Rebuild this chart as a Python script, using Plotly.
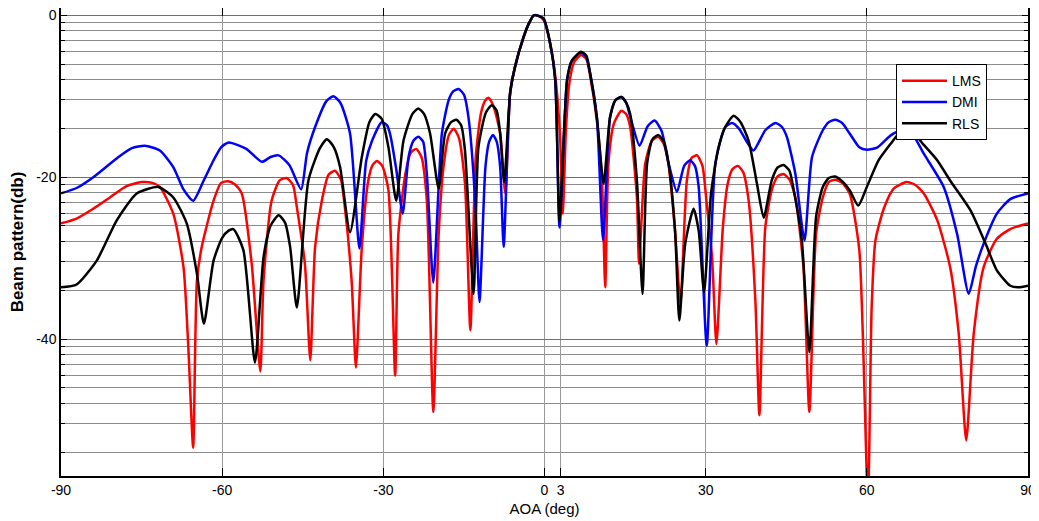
import math
import plotly.graph_objects as go

# ---------------- data ----------------
lms_aoa = [-90, -87.1, -84.0, -80.9, -77.8, -75.0, -73.0, -71.6, -69.1, -67.2, -66.3, -65.4, -64.7, -63.8, -61.6,
           -60.2, -58.9, -57.6, -56.35, -54.5, -52.9, -52.3, -50.8, -49.3, -48.0, -46.8, -46.1, -44.6, -43.6,
           -42.7, -41.45, -40.2, -39.0, -37.9, -37.1, -35.9, -35.1, -34.0, -32.8, -32.0, -31.2, -30.2, -29.05,
           -27.8, -27.2, -25.9, -24.9, -23.9, -22.9, -21.9, -20.7, -19.7, -18.8, -17.8, -16.9, -15.9, -14.8,
           -13.8, -12.8, -11.8, -11.0, -10.4, -9.5, -8.25, -7.3, -6.4, -5.5, -3.9, -2.9, -2.0, -1.0,
           -0.15, 1.06, 2.0, 2.9, 3.4, 4.0, 4.6, 5.5, 6.8, 7.8, 8.5, 9.75, 10.7, 11.3, 11.9, 12.9, 14.3, 15.2,
           15.95, 17.2, 17.6, 18.75, 20.0, 21.2, 22.2, 23.1, 24.3, 25.3, 26.5, 27.4, 28.4, 29.4, 30.2, 31.2,
           32.0, 33.2, 34.1, 35.0, 36.0, 37.0, 38.0, 39.25, 40.0, 41.1, 42.3, 43.4, 44.5, 45.6, 46.7, 48.2,
           49.3, 50.55, 51.8, 52.9, 54.1, 55.4, 56.8, 58.6, 60.2, 60.9, 61.6, 63.2, 65.0, 67.4, 68.9, 70.6,
           73.1, 75.5, 77.1, 78.5, 79.9, 81.75, 84.2, 86.7, 90]
lms_db = [-25.7, -25.1, -23.9, -22.5, -21.1, -20.6, -20.7, -21.2, -24.5, -31.1, -41.0, -53.4, -32.8, -28.6, -22.9,
          -20.7, -20.5, -20.9, -22.0, -30.7, -44.0, -32.8, -22.9, -20.4, -20.1, -21.0, -23.7, -30.7, -42.6,
          -28.6, -22.9, -19.7, -19.2, -20.3, -24.1, -32.8, -43.5, -28.6, -20.4, -18.5, -18.0, -18.6, -21.6,
          -44.5, -27.0, -19.6, -17.0, -16.5, -17.5, -22.9, -49.0, -27.0, -18.75, -14.8, -14.0, -15.2, -20.8,
          -38.9, -17.5, -12.0, -10.5, -10.2, -11.2, -14.6, -22.0, -9.6, -6.4, -2.7, -1.0, 0.0, -0.1,
          -0.6, -3.5, -7.5, -15.0, -24.5, -14.0, -8.5, -5.8, -4.9, -5.4, -7.5, -13.0, -20.4, -33.6, -18.3, -13.4, -11.8, -12.2,
          -13.8, -22.5, -30.7, -18.3, -15.5, -15.0, -15.9, -18.5, -26.6, -35.6, -20.4, -17.6, -17.3, -18.6, -23.3, -30.0,
          -40.6, -26.2, -20.8, -19.0, -18.6, -19.4, -22.9, -35.2, -49.4, -26.2, -21.6, -19.9, -19.6, -20.3, -22.5, -31.1,
          -49.0, -27.0, -22.5, -20.6, -20.3, -20.7, -22.0, -29.0, -60.0, -36.0, -27.8, -23.8, -21.4, -20.6, -20.9, -22.0,
          -25.3, -31.1, -39.3, -52.5, -39.3, -31.1, -27.6, -26.4, -25.7]

dmi_aoa = [-90, -87.0, -84.0, -79.3, -76.8, -74.4, -71.6, -69.1, -67.2, -65.4, -63.5, -61.6, -60.2, -58.8,
           -55.5, -52.6, -51.0, -49.5, -47.5, -45.3, -44.2, -42.7, -40.6, -39.3, -38.0, -36.2, -34.45, -33.2,
           -32.1, -30.3, -29.3, -28.7, -27.6, -26.4, -25.3, -24.4, -23.5, -22.6, -21.9, -20.7, -19.1, -17.85,
           -17.0, -16.0, -15.0, -14.15, -12.9, -12.1, -11.0, -10.3, -9.6, -8.9, -8.25, -7.6,
           -6.4, -5.5, -3.9, -2.9, -2.0, -1.0, -0.15, 1.06, 2.0, 2.8, 4.2, 5.1, 6.8, 7.8, 8.5, 9.75, 10.9, 12.2,
           13.2, 14.3, 15.2, 15.95, 17.7, 19.2, 20.5, 21.8, 23.1, 24.65, 26.0, 27.1, 28.0, 28.7, 30.2, 31.8,
           33.65, 34.9, 36.2, 37.55, 38.9, 41.1, 43.0, 44.2, 45.1, 46.7, 48.4, 49.8, 51.8, 52.9, 54.1, 55.4,
           56.8, 58.6, 60.0, 62.0, 64.5, 66.85, 68.6, 70.6, 74.3, 76.8, 78.96, 80.3, 81.75, 84.2, 86.7, 90]
dmi_db = [-22.0, -21.3, -20.0, -17.5, -16.4, -16.1, -16.7, -18.75, -21.5, -22.9, -20.5, -17.9, -16.3, -15.7,
          -16.5, -18.1, -17.5, -17.3, -18.5, -21.5, -17.0, -13.8, -10.6, -10.0, -10.8, -14.6, -28.8, -18.0,
          -15.5, -13.2, -13.6, -14.8, -19.0, -24.5, -17.5, -15.5, -15.0, -15.6, -19.6, -33.0, -14.6, -10.5,
          -9.4, -9.1, -9.8, -12.6, -22.9, -35.4, -18.75, -15.6, -14.8, -15.6, -18.75, -28.6,
          -9.6, -6.4, -2.7, -1.0, 0.0, -0.1, -0.5, -3.5, -8.0, -26.2, -8.0, -5.6, -4.6, -5.2, -7.2, -12.6, -27.8, -12.6,
          -10.5, -10.1, -10.8, -12.5, -16.1, -13.7, -13.0, -14.3, -18.3, -21.8, -18.6, -17.9, -18.6, -21.2, -40.8, -18.3,
          -13.8, -13.3, -14.0, -15.5, -16.7, -14.2, -13.3, -13.8, -15.0, -19.6, -27.8, -17.5, -14.2, -13.2, -12.9, -13.3,
          -14.6, -16.3, -16.6, -16.3, -14.8, -14.1, -14.8, -17.1, -21.2, -27.0, -34.4, -31.0, -28.2, -24.5, -22.7, -22.0]

rls_aoa = [-90, -87.1, -83.35, -79.6, -75.9, -71.9, -69.1, -66.6, -64.7, -63.4, -61.6, -60.0, -58.8, -57.9, -56.05,
           -53.9, -52.3, -51.0, -49.5, -48.3, -47.35, -46.1, -43.95, -41.8, -40.5, -39.2, -38.05, -36.2, -34.0,
           -32.6, -31.5, -30.3, -29.05, -27.6, -26.25, -24.6, -23.5, -22.4, -21.3, -19.7, -18.5, -17.4, -16.4,
           -15.5, -14.8, -13.2, -12.3, -10.9, -9.8, -8.9, -8.25, -7.5, -6.4, -5.5,
           -3.9, -2.9, -2.0, -1.0, -0.15, 1.06, 2.0, 2.8, 4.2, 5.1, 6.8, 7.8, 8.5, 9.75, 11.0, 12.2, 13.2, 14.3,
           15.2, 15.95, 17.2, 18.25, 19.1, 20.1, 21.2, 22.2, 23.1, 24.3, 25.1, 26.2, 27.75, 28.7, 29.7, 31.0,
           32.4, 33.65, 35.2, 36.5, 38.0, 39.55, 40.8, 42.3, 43.4, 44.5, 45.6, 46.4, 47.9, 49.3, 50.55, 51.8,
           52.9, 54.1, 55.4, 56.8, 58.4, 60.0, 62.2, 64.4, 66.0, 67.4, 69.0, 70.6, 73.1, 75.5, 79.3, 82.1, 84.2,
           86.7, 88.2, 90]
rls_db = [-33.6, -33.25, -30.3, -25.3, -22.0, -21.2, -22.5, -25.7, -31.9, -38.1, -30.3, -27.5, -26.6, -26.4, -29.0,
          -42.9, -29.9, -26.0, -24.7, -25.6, -28.6, -36.1, -20.4, -16.4, -15.3, -16.3, -18.75, -26.8, -17.5,
          -13.2, -12.2, -12.8, -16.3, -22.9, -15.5, -12.2, -11.5, -12.2, -14.6, -21.4, -14.6, -13.2, -12.9,
          -13.6, -16.7, -34.4, -16.3, -12.0, -11.1, -11.8, -14.6, -20.6, -9.6, -6.4,
          -2.7, -1.0, 0.0, -0.1, -0.4, -3.5, -8.0, -25.5, -8.0, -5.6, -4.5, -5.0, -7.2, -12.6, -20.8, -12.6, -10.5, -10.1,
          -10.8, -12.2, -20.4, -34.4, -18.3, -15.3, -14.8, -15.6, -18.3, -26.6, -37.7, -28.2, -23.9, -26.6, -34.2, -22.0,
          -16.3, -13.8, -12.4, -13.2, -15.5, -20.8, -25.0, -20.4, -18.8, -18.5, -19.2, -21.6, -27.8, -41.6, -24.9, -21.2,
          -20.1, -19.9, -20.5, -21.6, -23.5, -21.2, -17.9, -15.9, -14.6, -14.3, -14.8, -16.0, -17.9, -20.4, -24.1, -28.2, -31.5,
          -33.4, -33.6, -33.4]

series_names = ["LMS", "DMI", "RLS"]
series_colors = ["#ff0000", "#0000ff", "#000000"]

x_tickvals = [-90, -60, -30, 0, 3, 30, 60, 90]
x_ticktext = ["-90", "-60", "-30", "0", "3", "30", "60", "90"]
y_tickvals = [0, -20, -40]
y_ticktext = ["0", "-20", "-40"]

# ---------------- figure ----------------
FONT = "Liberation Sans, Arial, sans-serif"
fig = go.Figure()
for name, color, xs, ys in zip(series_names, series_colors,
                               [lms_aoa, dmi_aoa, rls_aoa], [lms_db, dmi_db, rls_db]):
    fig.add_trace(go.Scatter(x=xs, y=ys, mode="lines", name=name,
                             line=dict(color=color, width=2.5, shape="spline", smoothing=0.6)))

# log-style minor grid lines (MATLAB log-grid look) in each 20 dB band
minor_y = []
for base in [-60, -40, -20]:
    for k in range(2, 10):
        v = base + 20 * math.log10(k)
        if -56.9 < v < 0.9:
            minor_y.append(v)

# page body has an 8px margin, so the figure is 8px smaller and margins are shifted
fig.update_layout(
    width=1031, height=513,
    margin=dict(l=53, r=11, t=0, b=45),
    paper_bgcolor="white", plot_bgcolor="white",
    font=dict(family=FONT, size=14, color="#000000"),
    legend=dict(x=0.8635, y=0.88, xanchor="left", yanchor="top",
                bgcolor="white", bordercolor="#000000", borderwidth=1,
                font=dict(family=FONT, size=14), tracegroupgap=0, itemwidth=45),
    showlegend=True,
)
fig.update_xaxes(
    range=[-90, 90], tickmode="array", tickvals=x_tickvals, ticktext=x_ticktext,
    showgrid=True, gridcolor="#9a9a9a", gridwidth=1, automargin=False,
    ticks="inside", ticklen=8, tickcolor="#000000", ticklabeloverflow="allow",
    showline=True, linecolor="#000000", linewidth=1.5, mirror="ticks",
    zeroline=False, tickfont=dict(family=FONT, size=14),
    title=dict(text="AOA (deg)", font=dict(family=FONT, size=15), standoff=7),
)
fig.update_yaxes(
    range=[-56.9, 0.9], tickmode="array", tickvals=y_tickvals, ticktext=y_ticktext,
    showgrid=True, gridcolor="#707070", gridwidth=1, automargin=False,
    ticks="inside", ticklen=6, tickcolor="#000000", ticklabeloverflow="allow",
    showline=True, linecolor="#000000", linewidth=1.5, mirror="ticks",
    zeroline=False, tickfont=dict(family=FONT, size=14),
    minor=dict(tickmode="array", tickvals=minor_y, showgrid=True, gridcolor="#8c8c8c",
               gridwidth=1, ticks="inside", ticklen=4, tickcolor="#000000"),
    title=dict(text="<b>Beam pattern(db)</b>", font=dict(family=FONT, size=17), standoff=9),
)

fig.write_html("out.html")
